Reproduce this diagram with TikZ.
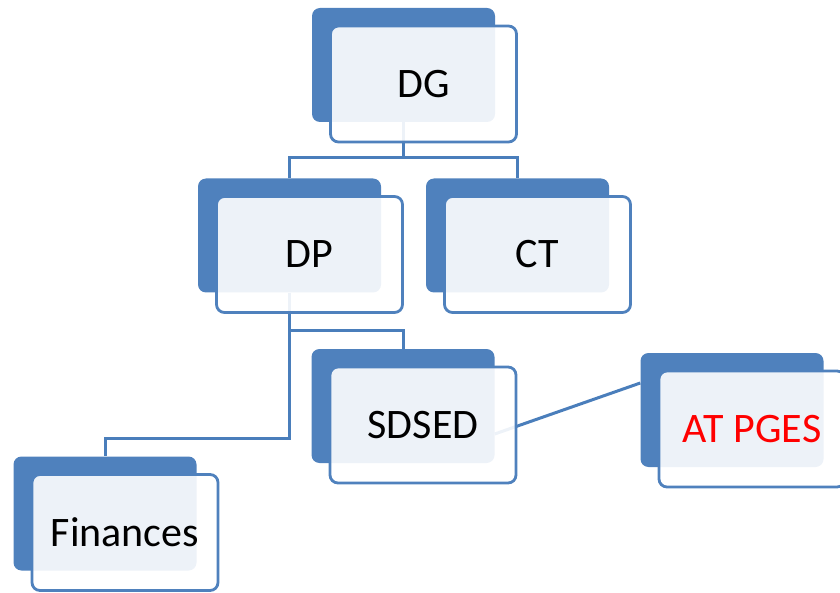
\documentclass[tikz,border=0pt]{standalone}
\usepackage{fontspec}
\setmainfont{Carlito}
\usetikzlibrary{backgrounds}
\definecolor{orgblue}{HTML}{4F81BD}
\definecolor{linkblue}{HTML}{4A7EBB}
\tikzset{
	back/.style={rectangle, rounded corners=8pt, fill=orgblue, minimum width=183pt, minimum height=114pt, inner sep=0pt},
	front/.style={rectangle, rounded corners=8pt, draw=orgblue, line width=2.8pt, fill=white, fill opacity=0.9, text opacity=1, draw opacity=1, minimum width=186pt, minimum height=116pt, inner sep=0pt, font=\fontsize{42}{50}\selectfont},
	link/.style={draw=linkblue, line width=3pt},
	ahead/.style={shift={(20,19)}}}

\begin{document}
\begin{tikzpicture}[x=1pt, y=-1pt]
		\clip (0,0) rectangle (840,593);
		\useasboundingbox (0,0) rectangle (840,593);
		
		\node[back] (dgb) at (403.5,65) {};
		\node[front] (dg) at ([ahead]dgb) {DG};
		
		\node[back] (dpb) at (289.5,235.5) {};
		\node[front] (dp) at ([ahead]dpb) {DP};
		
		\node[back] (ctb) at (517.5,235.5) {};
		\node[front] (ct) at ([ahead]ctb) {CT};
		
		\node[back] (sdb) at (403,406) {};
		\node[front] (sdsed) at ([ahead]sdb) {SDSED};
		
		\node[back] (atb) at (732,410) {};
		\node[front, text=red] (atp) at ([ahead]atb) {AT PGES};
		
		\node[back] (fib) at (105,513.5) {};
		\node[front] (fin) at ([ahead]fib) {Finances};
		
		\coordinate (dgj) at (403.5,158);
		\coordinate (dpj) at (289.5,331);
		\coordinate (fij) at (105,438);
		
		\begin{scope}[on background layer]
			\draw[link] (dgb) -- (dgj);
			\draw[link] (dpb) |- (dgj) -| (ctb);
			\draw[link] (dpb) -- (dpj) -| (sdb);
			\draw[link] (dpb) |- (fij) -- (fib);
			\draw[link] ([yshift=-28pt]sdb.east) -- ([yshift=27pt]atb.west);
		\end{scope}
	\end{tikzpicture}
\end{document}
